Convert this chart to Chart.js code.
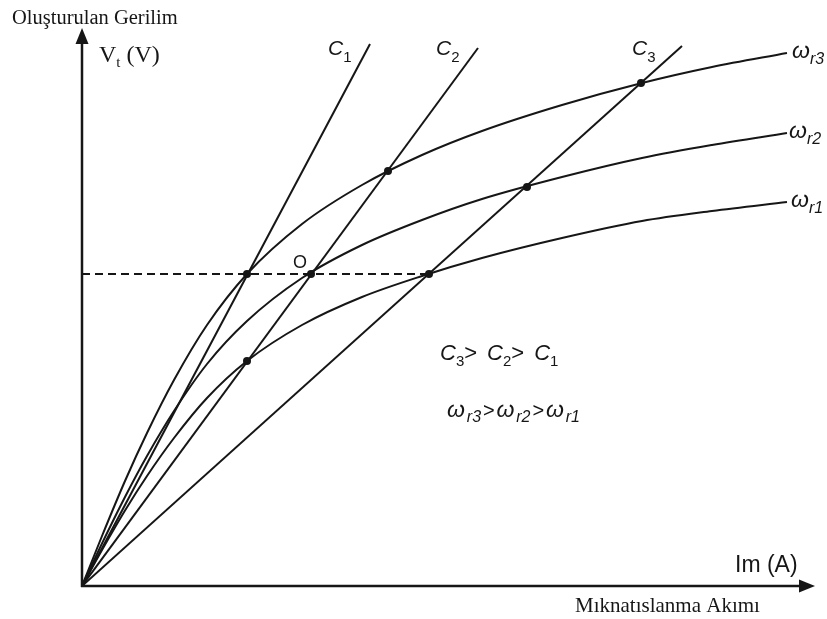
<!DOCTYPE html>
<html>
<head>
<meta charset="utf-8">
<script src="https://cdn.jsdelivr.net/npm/chart.js@4.4.0/dist/chart.umd.min.js"></script>
<style>
  html, body { margin: 0; padding: 0; background: #fff; }
  #wrap { width: 827px; height: 619px; position: relative; }
</style>
</head>
<body>
<div id="wrap"><canvas id="c" width="827" height="619"></canvas></div>
<script>
// Magnetising current samples (A) for the three no-load magnetisation curves
const imSamples = [0, 2, 4.3, 6.5, 9.2, 12.5, 16.5, 22, 28, 34, 40, 48, 56, 63, 70.5];
// Generated voltage (V) at rotor speeds wr3 > wr2 > wr1
const vtWr3 = [0, 5.0, 10.5, 15.3, 20.6, 26.1, 31.2, 36.2, 40.1, 43.1, 45.5, 48.1, 50.3, 51.9, 53.3];
const vtWr2 = [0, 4.25, 8.9, 13.0, 17.5, 22.2, 26.5, 30.8, 34.1, 36.6, 38.7, 40.9, 42.8, 44.1, 45.3];
const vtWr1 = [0, 3.6, 7.55, 11.0, 14.8, 18.8, 22.5, 26.1, 28.9, 31.0, 32.8, 34.8, 36.5, 37.5, 38.4];

// Capacitor load lines, drawn from the origin to their end points
const capEndIm = [28.8, 39.6, 60.0];
const capEndVt = [54.2, 53.8, 54.0];

// Intersections of capacitor lines with the magnetisation curves
const opIm = [16.5, 22.9, 34.7, 16.5, 30.6, 44.5, 55.9];
const opVt = [31.2, 31.2, 31.2, 22.5, 41.5, 39.9, 50.3];

// Constant-voltage reference level and its extent
const vtLevel = 31.2;
const levelEndIm = 34.7;

const INK = '#161616';
const toPts = (xs, ys) => xs.map((x, i) => ({ x: x, y: ys[i] }));

const curveStyle = {
  showLine: true, borderColor: INK, borderWidth: 2, pointRadius: 0,
  cubicInterpolationMode: 'monotone', fill: false
};
const lineStyle = {
  showLine: true, borderColor: INK, borderWidth: 2, pointRadius: 0, tension: 0, fill: false
};

const datasets = [
  Object.assign({ data: toPts(imSamples, vtWr3) }, curveStyle),
  Object.assign({ data: toPts(imSamples, vtWr2) }, curveStyle),
  Object.assign({ data: toPts(imSamples, vtWr1) }, curveStyle),
  ...capEndIm.map((x, i) => Object.assign({ data: [{ x: 0, y: 0 }, { x: x, y: capEndVt[i] }] }, lineStyle)),
  Object.assign({ data: [{ x: 0, y: vtLevel }, { x: levelEndIm, y: vtLevel }], borderDash: [8, 5] }, lineStyle),
  { data: toPts(opIm, opVt), showLine: false, pointRadius: 4, pointBackgroundColor: INK,
    pointBorderColor: INK, pointBorderWidth: 0 }
];

// Draws a run of text pieces [text, font, baseline shift]; when a width is
// given, the spare room is shared out evenly between the pieces.
function drawRun(ctx, x, y, parts, width) {
  ctx.fillStyle = INK;
  ctx.textBaseline = 'alphabetic';
  ctx.textAlign = 'left';
  const widths = parts.map(([t, f]) => { ctx.font = f; return ctx.measureText(t).width; });
  const natural = widths.reduce((s, w) => s + w, 0);
  const gap = width && parts.length > 1 ? (width - natural) / (parts.length - 1) : 0;
  let cx = x;
  parts.forEach(([t, f, dy], i) => {
    ctx.font = f;
    ctx.fillText(t, cx, y + (dy || 0));
    cx += widths[i] + gap;
  });
}

const SANS = '"Liberation Sans", Arial, sans-serif';
const SERIF = '"Liberation Serif", "Times New Roman", serif';

const decorations = {
  id: 'decorations',
  afterDatasetsDraw(chart) {
    const ctx = chart.ctx;
    const a = chart.chartArea;
    const xs = chart.scales.x, ys = chart.scales.y;
    const X0 = xs.getPixelForValue(0), Y0 = ys.getPixelForValue(0);
    ctx.save();
    // axes with arrowheads
    ctx.strokeStyle = INK; ctx.fillStyle = INK; ctx.lineWidth = 2.5;
    ctx.beginPath();
    ctx.moveTo(X0, Y0 + 1); ctx.lineTo(X0, a.top + 12);
    ctx.moveTo(X0 - 1, Y0); ctx.lineTo(a.right - 12, Y0);
    ctx.stroke();
    ctx.beginPath();
    ctx.moveTo(X0, a.top); ctx.lineTo(X0 - 6.5, a.top + 16); ctx.lineTo(X0 + 6.5, a.top + 16); ctx.closePath();
    ctx.fill();
    ctx.beginPath();
    ctx.moveTo(a.right, Y0); ctx.lineTo(a.right - 16, Y0 - 6.5); ctx.lineTo(a.right - 16, Y0 + 6.5); ctx.closePath();
    ctx.fill();

    // axis titles
    drawRun(ctx, 12, 24, [['Oluşturulan Gerilim', '20.5px ' + SERIF]]);
    drawRun(ctx, 99, 62, [['V', '24px ' + SERIF], ['t', '15px ' + SERIF, 5], [' (V)', '24px ' + SERIF]]);
    drawRun(ctx, 735, 572, [['Im (A)', '23px ' + SANS]]);
    drawRun(ctx, 575, 612, [['Mıknatıslanma Akımı', '21px ' + SERIF]]);

    // capacitor line labels
    const capOffsets = [-42, -42, -50];
    capEndIm.forEach((x, i) => {
      const px = xs.getPixelForValue(x) + capOffsets[i];
      drawRun(ctx, px, 55, [['C', 'italic 21px ' + SANS], [String(i + 1), '15px ' + SANS, 7]]);
    });

    // speed curve labels at curve ends
    const last = imSamples.length - 1;
    [[vtWr3, '3', 5], [vtWr2, '2', 2], [vtWr1, '1', 4]].forEach(([ys0, n, off]) => {
      const px = xs.getPixelForValue(imSamples[last]) + off;
      const py = ys.getPixelForValue(ys0[last]) + 5;
      drawRun(ctx, px, py, [['ω', 'italic 23px ' + SANS], ['r' + n, 'italic 16px ' + SANS, 6]]);
    });

    // operating point label
    drawRun(ctx, 293, 268, [['O', '18px ' + SANS]]);

    // ordering notes
    drawRun(ctx, 440, 360, [
      ['C', 'italic 22px ' + SANS], ['3', '15px ' + SANS, 6], ['> ', '22px ' + SANS], [' ', '14px ' + SANS],
      ['C', 'italic 22px ' + SANS], ['2', '15px ' + SANS, 6], ['> ', '22px ' + SANS], [' ', '14px ' + SANS],
      ['C', 'italic 22px ' + SANS], ['1', '15px ' + SANS, 6]
    ]);
    drawRun(ctx, 447, 417, [
      ['ω', 'italic 23px ' + SANS], ['r3', 'italic 16px ' + SANS, 5], ['>', '20px ' + SANS],
      ['ω', 'italic 23px ' + SANS], ['r2', 'italic 16px ' + SANS, 5], ['>', '20px ' + SANS],
      ['ω', 'italic 23px ' + SANS], ['r1', 'italic 16px ' + SANS, 5]
    ], 133);
    ctx.restore();
  }
};

new Chart(document.getElementById('c'), {
  type: 'scatter',
  data: { datasets: datasets },
  options: {
    responsive: false,
    animation: false,
    layout: { padding: { left: 82, top: 28, right: 12, bottom: 33 } },
    plugins: { legend: { display: false }, tooltip: { enabled: false } },
    scales: {
      x: { type: 'linear', min: 0, max: 73.3, display: false },
      y: { type: 'linear', min: 0, max: 55.8, display: false }
    }
  },
  plugins: [decorations]
});
</script>
</body>
</html>
